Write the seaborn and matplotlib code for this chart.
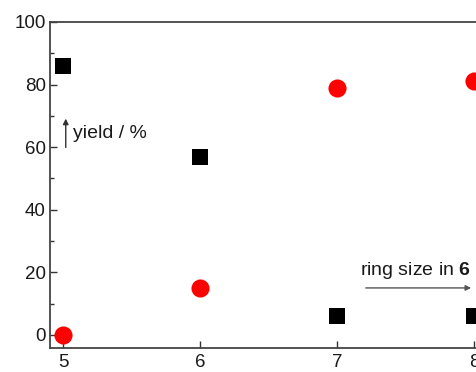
import matplotlib
matplotlib.use("Agg")
import matplotlib.pyplot as plt
import seaborn as sns
import pandas as pd
from matplotlib.ticker import MultipleLocator

ring_size = [5, 6, 7, 8]
yield_square = [86, 57, 6, 6]
yield_circle = [0, 15, 79, 81]
x_ticks = [5, 6, 7, 8]
y_ticks = [0, 20, 40, 60, 80, 100]

sns.set_theme(style="white")
plt.rcParams['font.family'] = ['Liberation Sans', 'DejaVu Sans']
plt.rcParams['mathtext.fontset'] = 'custom'
plt.rcParams['mathtext.rm'] = 'Liberation Sans'
plt.rcParams['mathtext.bf'] = 'Liberation Sans:bold'

df_sq = pd.DataFrame({"ring": ring_size, "yield": yield_square})
df_ci = pd.DataFrame({"ring": ring_size, "yield": yield_circle})

fig = plt.figure(figsize=(4.76, 3.72), dpi=100)
ax = fig.add_axes([50/476, 1 - 348/372, (476 - 50)/476 + 0.01, (348 - 22)/372])

sns.scatterplot(data=df_sq, x="ring", y="yield", marker="s", s=130, color="black",
                edgecolor="black", linewidth=0, ax=ax, clip_on=False, zorder=3)
sns.scatterplot(data=df_ci, x="ring", y="yield", marker="o", s=170, color="#ff0000",
                edgecolor="#ff0000", linewidth=0, ax=ax, clip_on=False, zorder=3)

ax.set_xlim(4.905, 8.05)
ax.set_ylim(-4.2, 100)
ax.set_xticks(x_ticks)
ax.set_yticks(y_ticks)
ax.yaxis.set_minor_locator(MultipleLocator(10))
ax.set_xlabel("")
ax.set_ylabel("")
ax.tick_params(axis="both", which="major", direction="in", length=5, width=1,
               colors="#333333", labelsize=13.5, labelcolor="#1a1a1a")
ax.tick_params(axis="y", which="minor", direction="in", length=3, width=1,
               colors="#333333", left=True)
ax.tick_params(axis="y", which="major", left=True, pad=3)
ax.tick_params(axis="x", which="major", bottom=True, pad=4)
for s in ["left", "bottom", "top"]:
    ax.spines[s].set_color("#444444")
    ax.spines[s].set_linewidth(1.3)
ax.spines["right"].set_visible(False)

ax.annotate("", xy=(5.02, 70), xytext=(5.02, 59),
            arrowprops=dict(arrowstyle="-|>", color="#333333", lw=1, mutation_scale=8))
ax.text(5.07, 64.5, "yield / %", fontsize=14, color="#1a1a1a", va="center", ha="left")

ax.annotate("", xy=(8.0, 15), xytext=(7.19, 15),
            arrowprops=dict(arrowstyle="-|>", color="#555555", lw=1, mutation_scale=8))
ax.text(7.17, 20.5, r"ring size in $\mathbf{6}$", fontsize=14, color="#1a1a1a",
        va="center", ha="left")

fig.savefig("out.png", dpi=100)
